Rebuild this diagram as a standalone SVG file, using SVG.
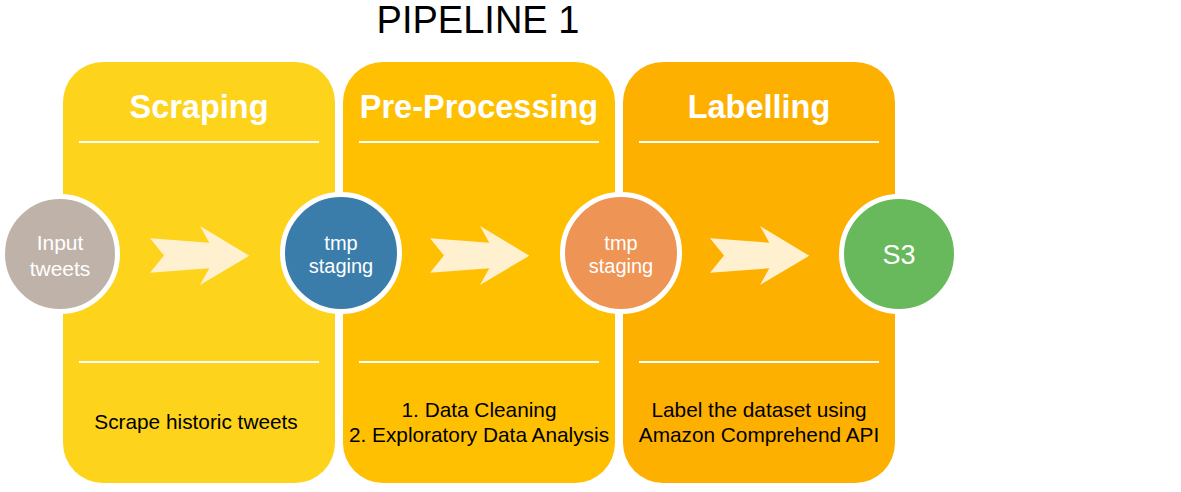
<svg xmlns="http://www.w3.org/2000/svg" width="1181" height="492" viewBox="0 0 1181 492">
<style>
.ttl{font-family:"Liberation Sans",Arial,sans-serif;font-weight:bold;font-size:32.5px;fill:#fff;text-anchor:middle}
.sep{stroke:#fff;stroke-width:2}
.desc{font-family:"Liberation Sans",Arial,sans-serif;font-size:20.8px;fill:#000;text-anchor:middle}
.ctext{font-family:"Liberation Sans",Arial,sans-serif;font-size:20px;fill:#fff;text-anchor:middle}
.big{font-size:21px}
.s3{font-size:27px}
.circ{stroke:#fff;stroke-width:5}
.arr{fill:#FFF1CF}
</style>
<defs>
<path id="arrowShape" d="M150,238.3 L209.3,242.7 L200,226 L249.3,255.7 L200,285 L209.3,268.3 L150,272.7 L164,255.5 Z"/>
</defs>
<rect width="1181" height="492" fill="#fff"/>
<text x="478" y="33" font-family="'Liberation Sans',Arial,sans-serif" font-size="38" text-anchor="middle" fill="#000">PIPELINE 1</text>

<g id="panel-scraping">
<rect x="63" y="62" width="272" height="421" rx="40" fill="#FDD31B"/>
<text class="ttl" x="199" y="118">Scraping</text>
<line class="sep" x1="79" y1="142" x2="319" y2="142"/>
<line class="sep" x1="79" y1="362" x2="319" y2="362"/>
<text class="desc" x="196" y="429">Scrape historic tweets</text>
</g>
<g id="panel-preprocessing">
<rect x="343" y="62" width="272" height="421" rx="40" fill="#FEC000"/>
<text class="ttl" x="479" y="118">Pre-Processing</text>
<line class="sep" x1="359" y1="142" x2="599" y2="142"/>
<line class="sep" x1="359" y1="362" x2="599" y2="362"/>
<text class="desc" x="479" y="417">1. Data Cleaning</text>
<text class="desc" x="479" y="442">2. Exploratory Data Analysis</text>
</g>
<g id="panel-labelling">
<rect x="623" y="62" width="272" height="421" rx="40" fill="#FEB000"/>
<text class="ttl" x="759" y="118">Labelling</text>
<line class="sep" x1="639" y1="142" x2="879" y2="142"/>
<line class="sep" x1="639" y1="362" x2="879" y2="362"/>
<text class="desc" x="759" y="417">Label the dataset using</text>
<text class="desc" x="759" y="442">Amazon Comprehend API</text>
</g>

<g id="connectors">
<use href="#arrowShape" class="arr"/>
<use href="#arrowShape" class="arr" transform="translate(280,0)"/>
<use href="#arrowShape" class="arr" transform="translate(560,0)"/>
</g>

<g id="node-input">
<circle class="circ" cx="60" cy="254" r="57.5" fill="#BFB3A9"/>
<text class="ctext big" x="60" y="250">Input</text>
<text class="ctext big" x="60" y="276">tweets</text>
</g>
<g id="node-tmp1">
<circle class="circ" cx="341" cy="253" r="58.5" fill="#3A7DAB"/>
<text class="ctext" x="341" y="250">tmp</text>
<text class="ctext" x="341" y="273">staging</text>
</g>
<g id="node-tmp2">
<circle class="circ" cx="621" cy="253" r="58.5" fill="#EE9455"/>
<text class="ctext" x="621" y="250">tmp</text>
<text class="ctext" x="621" y="273">staging</text>
</g>
<g id="node-s3">
<circle class="circ" cx="899" cy="254" r="57.5" fill="#68B85C"/>
<text class="ctext s3" x="899" y="264">S3</text>
</g>
</svg>
